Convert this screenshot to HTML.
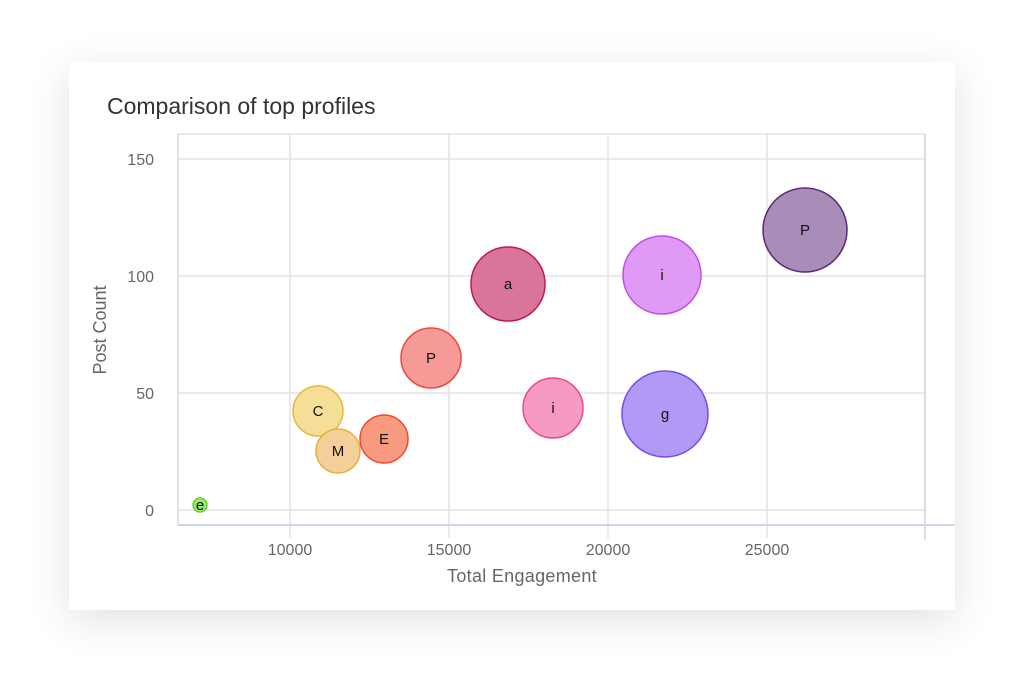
<!DOCTYPE html>
<html><head><style>
body{margin:0;width:1024px;height:686px;background:#fff;overflow:hidden;font-family:"Liberation Sans",sans-serif}
.card{position:absolute;left:69px;top:62px;width:886px;height:548px;background:#fff;box-shadow:0 10px 40px rgba(0,0,0,0.12)}
</style></head><body>
<div class="card"></div>
<svg width="1024" height="686" style="position:absolute;left:0;top:0" font-family="Liberation Sans, sans-serif">
<text x="107" y="114" font-size="23" fill="#333">Comparison of top profiles</text>
<g stroke="#e4e4e8" stroke-width="1.5">
<line x1="178" y1="159" x2="925" y2="159"/><line x1="178" y1="276" x2="925" y2="276"/>
<line x1="178" y1="393" x2="925" y2="393"/><line x1="178" y1="510" x2="925" y2="510"/>
<line x1="290" y1="134" x2="290" y2="538"/><line x1="449" y1="134" x2="449" y2="538"/>
<line x1="608" y1="134" x2="608" y2="538"/><line x1="767" y1="134" x2="767" y2="538"/>
<line x1="178" y1="134" x2="925" y2="134"/>
</g>
<line x1="178" y1="134" x2="178" y2="526" stroke="#d8d8e0" stroke-width="1.5"/>
<line x1="925" y1="134" x2="925" y2="540" stroke="#d0d0d8" stroke-width="1.5"/>
<line x1="178" y1="525" x2="955" y2="525" stroke="#cfd3e6" stroke-width="2"/>
<g font-size="16" fill="#666" text-anchor="end">
<text x="154" y="165">150</text><text x="154" y="282">100</text><text x="154" y="399">50</text><text x="154" y="516">0</text></g>
<g font-size="16" fill="#666" text-anchor="middle">
<text x="290" y="555">10000</text><text x="449" y="555">15000</text><text x="608" y="555">20000</text><text x="767" y="555">25000</text>
<text x="522" y="582" font-size="18" letter-spacing="0.3">Total Engagement</text></g>
<text transform="translate(106,330) rotate(-90)" font-size="18" fill="#666" text-anchor="middle">Post Count</text>
<g stroke-width="1.5">
<circle cx="200" cy="505" r="7" fill="#9be86a" stroke="#6bd03c"/>
<circle cx="318" cy="411" r="25" fill="#f5de98" stroke="#e8b83a"/>
<circle cx="338" cy="451" r="22" fill="#f3d09a" stroke="#e8b040"/>
<circle cx="384" cy="439" r="24" fill="#f79a80" stroke="#ef4a2a"/>
<circle cx="431" cy="358" r="30" fill="#f59a96" stroke="#ea4a3a"/>
<circle cx="508" cy="284" r="37" fill="#d9749a" stroke="#c01a5a"/>
<circle cx="553" cy="408" r="30" fill="#f59ac2" stroke="#ea4a8a"/>
<circle cx="662" cy="275" r="39" fill="#e09af5" stroke="#c04ae8"/>
<circle cx="665" cy="414" r="43" fill="#b09af5" stroke="#7a4ae8"/>
<circle cx="805" cy="230" r="42" fill="#a98cb8" stroke="#5a2a78"/>
</g>
<g font-size="15" fill="#111" text-anchor="middle">
<text x="200" y="510">e</text><text x="318" y="416">C</text><text x="338" y="456">M</text><text x="384" y="444">E</text>
<text x="431" y="363">P</text><text x="508" y="289">a</text><text x="553" y="413">i</text><text x="662" y="280">i</text>
<text x="665" y="419">g</text><text x="805" y="235">P</text></g>
</svg>
</body></html>
